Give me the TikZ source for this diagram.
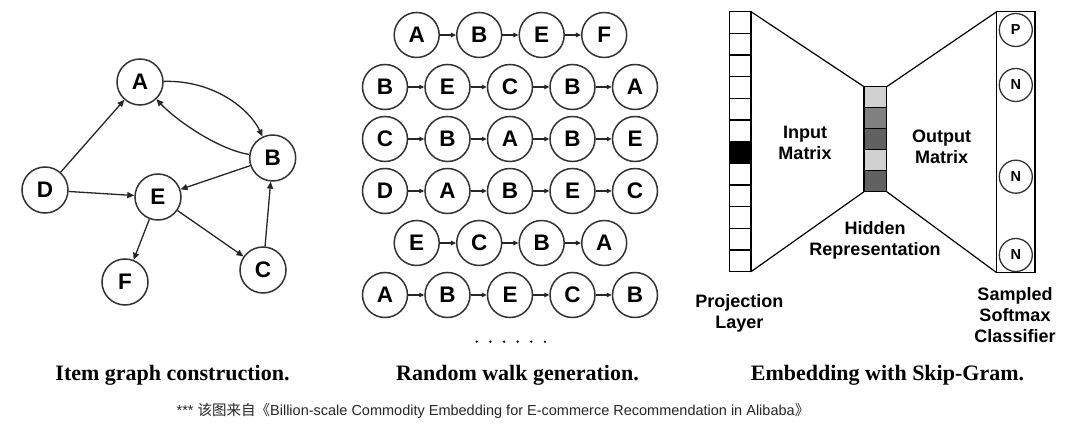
\documentclass[tikz,border=0pt]{standalone}
\usepackage{fontspec}
\setmainfont{Liberation Serif}
\setsansfont{Liberation Sans}
\newfontfamily\cjk{Noto Sans CJK SC}
\usetikzlibrary{arrows.meta}
\begin{document}
\begin{tikzpicture}[x=1pt,y=-1pt,
  gnode/.style={circle,draw=black!80,line width=1.5pt,minimum size=46pt,inner sep=0pt,font=\sffamily\bfseries\fontsize{22.5}{22.5}\selectfont},
  wnode/.style={gnode,minimum size=45pt},
  onode/.style={circle,draw=black!80,line width=1.3pt,minimum size=33pt,inner sep=0pt,font=\sffamily\bfseries\fontsize{14.5}{14.5}\selectfont},
  garrow/.style={line width=1.3pt,draw=black!85,-{Triangle[length=7pt,width=6pt]}},
  warrow/.style={line width=1.2pt,draw=black!85,-{Triangle[length=5pt,width=4.5pt]}},
  lbl/.style={font=\sffamily\bfseries\fontsize{18}{21}\selectfont,align=center},
  captext/.style={font=\bfseries\fontsize{22}{24}\selectfont,anchor=base},
  cell/.style={draw,line width=1.2pt}
]
\fill[white] (0,0) rectangle (1080,433);
\useasboundingbox (0,0) rectangle (1080,433);

% ---- item graph ----
\node[gnode] (A) at (140,82) {A};
\node[gnode] (B) at (272.7,158) {B};
\node[gnode] (D) at (45,190) {D};
\node[gnode] (E) at (158,197) {E};
\node[gnode] (F) at (125,282) {F};
\node[gnode] (C) at (263,270) {C};
\draw[garrow] (D) -- (A);
\draw[garrow] (D) -- (E);
\draw[garrow] (A) .. controls (215,80) and (250,110) .. (B);
\draw[garrow] (B) .. controls (220,150) and (178,122) .. (A);
\draw[garrow] (B) -- (E);
\draw[garrow] (E) -- (F);
\draw[garrow] (E) -- (C);
\draw[garrow] (C) -- (B);

% ---- random walks ----
\foreach \r/\yy/\xs/\seq in {1/35/416.7/{A,B,E,F},2/87/385/{B,E,C,B,A},3/139/385/{C,B,A,B,E},4/191/385/{D,A,B,E,C},5/243/416.7/{E,C,B,A},6/295/385/{A,B,E,C,B}}{
  \foreach \l [count=\i] in \seq {
    \node[wnode] (w\r-\i) at ({\xs+62.5*(\i-1)},\yy) {\l};
    \ifnum\i>1
      \pgfmathtruncatemacro\p{\i-1}
      \draw[warrow] (w\r-\p) -- (w\r-\i);
    \fi
  }
}
\foreach \k in {0,...,5} \fill ({476.7+13.66*\k},341.7) circle (1.3pt);

% ---- skip-gram ----
\foreach \k in {0,...,11} \draw[cell] (729.3,{11.7+21.67*\k}) rectangle (751,{11.7+21.67*(\k+1)});
\fill[black] (729.3,{11.7+21.67*6}) rectangle (751,{11.7+21.67*7});
\foreach \k/\c in {0/black!18,1/black!50,2/black!62,3/black!18,4/black!62}
  \draw[cell,fill=\c] (864,{86.7+21*\k}) rectangle (886.7,{86.7+21*(\k+1)});
\coordinate (p1) at (751,11.7);
\coordinate (p2) at (751,271.7);
\coordinate (h1) at (864,86.7);
\coordinate (h2) at (864,191.7);
\coordinate (h3) at (886.7,86.7);
\coordinate (h4) at (886.7,191.7);
\coordinate (o1) at (996.7,11.7);
\coordinate (o2) at (996.7,272.7);
\draw[line width=1.2pt] (p1) -- (h1);
\draw[line width=1.2pt] (p2) -- (h2);
\draw[line width=1.2pt] (h3) -- (o1);
\draw[line width=1.2pt] (h4) -- (o2);
\draw[cell] (996.7,11.7) rectangle (1035,272.7);
\node[onode] (oP) at (1015.8,30) {P};
\node[onode] (oN1) at (1015.8,85) {N};
\node[onode] (oN2) at (1015.8,176.7) {N};
\node[onode] (oN3) at (1015.8,255) {N};

\node[lbl] (lin) at (805,143) {Input\\Matrix};
\node[lbl] (lout) at (941.7,146.7) {Output\\Matrix};
\node[lbl] (lhid) at (875,240) {Hidden\\Representation};
\node[lbl] (lproj) at (739.3,313) {Projection\\Layer};
\node[lbl] (lsm) at (1015,315) {Sampled\\Softmax\\Classifier};

% ---- captions ----
\node[captext] (c1) at (172.5,380) {Item graph construction.};
\node[captext] (c2) at (517.5,380) {Random walk generation.};
\node[captext] (c3) at (887.5,380) {Embedding with Skip-Gram.};
\node[font=\sffamily\fontsize{14.5}{16}\selectfont,text=black!85] (fn) at (493,411)
  {*** {\cjk 该图来自《}Billion-scale Commodity Embedding for E-commerce Recommendation in Alibaba{\cjk 》}};
\end{tikzpicture}
\end{document}
